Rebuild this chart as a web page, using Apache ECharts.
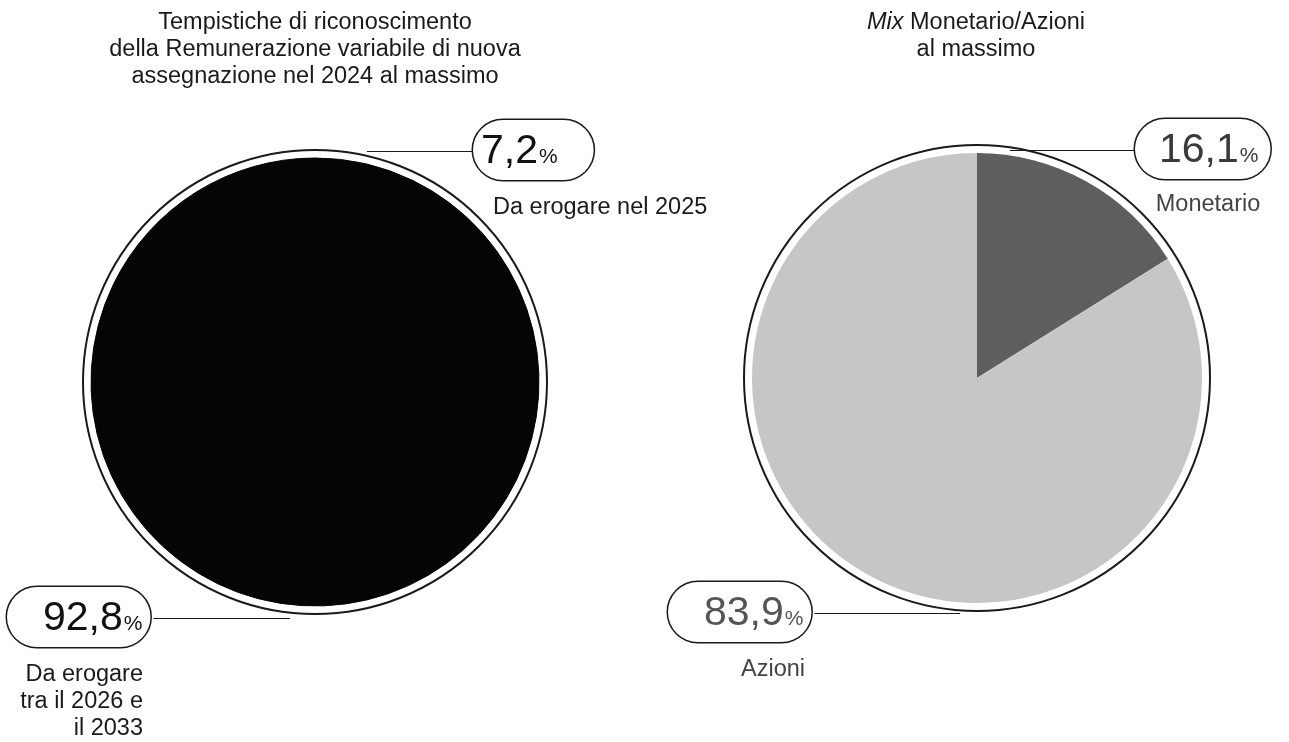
<!DOCTYPE html>
<html>
<head>
<meta charset="utf-8">
<script src="https://cdn.jsdelivr.net/npm/echarts@6/dist/echarts.min.js"></script>
<style>
  html, body { margin: 0; padding: 0; background: #fff; }
  #main { width: 1289px; height: 742px; }
</style>
</head>
<body>
<div id="main"></div>
<script>
// data
var timingNames = ['Da erogare nel 2025', 'Da erogare tra il 2026 e il 2033'];
var timingValues = [7.2, 92.8];
var mixNames = ['Monetario', 'Azioni'];
var mixValues = [16.1, 83.9];

var myChart = echarts.init(document.getElementById('main'));

var FONT = '"Liberation Sans", Arial, Helvetica, sans-serif';

// pie geometry (pixels)
var leftPie = { c: [315, 382], r: 224, ring: 232 };
var rightPie = { c: [977, 378], r: 225, ring: 233 };

// pill label: top-left corner and x offset (from pie centre) where the leader line ends
var pillPos = {
    1: [[473, 120, 52], [7, 587, -25]],
    3: [[1135, 119, 33], [668, 582, -17]]
};

function fmt(v) {
    return '{num|' + v.toFixed(1).replace('.', ',') + '}{pct|%}';
}

function richFor(color) {
    return {
        num: { fontFamily: FONT, fontSize: 41, color: color, lineHeight: 44, verticalAlign: 'bottom' },
        pct: { fontFamily: FONT, fontSize: 21, color: color, lineHeight: 44, verticalAlign: 'bottom', padding: [0, 0, 4, 1] }
    };
}

function ringSeries(p) {
    return {
        type: 'pie',
        silent: true,
        center: p.c,
        radius: [0, p.ring],
        label: { show: false },
        labelLine: { show: false },
        itemStyle: { color: '#fff', borderColor: '#1a1a1a', borderWidth: 2 },
        data: [{ value: 1, name: '' }],
        z: 1
    };
}

function pillLabel(color, pad) {
    return {
        show: true,
        formatter: function (p) { return fmt(p.value); },
        rich: richFor(color),
        borderColor: '#1a1a1a',
        borderWidth: 1.5,
        borderRadius: 30,
        padding: pad,
        backgroundColor: '#fff'
    };
}

function layoutFor(pie) {
    return function (params) {
        var pos = pillPos[params.seriesIndex][params.dataIndex];
        var w = params.labelRect.width, h = params.labelRect.height;
        var midY = pos[1] + h / 2;
        var onRight = pos[0] > pie.c[0];
        var endX = pie.c[0] + pos[2];
        var edgeX = onRight ? pos[0] : pos[0] + w;
        return {
            x: pos[0],
            y: pos[1],
            align: 'left',
            verticalAlign: 'top',
            labelLinePoints: [[endX, midY], [(endX + edgeX) / 2, midY], [edgeX, midY]]
        };
    };
}

var leftData = timingNames.map(function (n, i) {
    return { name: n, value: timingValues[i] };
});
var rightData = mixNames.map(function (n, i) {
    return { name: n, value: mixValues[i] };
});

var subStyle = { fontFamily: FONT, fontSize: 23.5, fontWeight: 'normal', color: '#1a1a1a', lineHeight: 27 };

var option = {
    backgroundColor: '#fff',
    animation: false,
    title: [
        {
            text: 'Tempistiche di riconoscimento\ndella Remunerazione variabile di nuova\nassegnazione nel 2024 al massimo',
            left: 310, top: 4, textAlign: 'center',
            textStyle: { fontFamily: FONT, fontSize: 23.5, fontWeight: 'normal', color: '#1a1a1a', lineHeight: 27 }
        },
        {
            text: '{i|Mix} Monetario/Azioni\nal massimo',
            left: 971, top: 4, textAlign: 'center',
            textStyle: {
                fontFamily: FONT, fontSize: 23.5, fontWeight: 'normal', color: '#1a1a1a', lineHeight: 27,
                rich: { i: { fontFamily: FONT, fontSize: 23.5, fontStyle: 'italic', color: '#1a1a1a', lineHeight: 27 } }
            }
        },
        {
            text: timingNames[0],
            left: 488, top: 189,
            textStyle: subStyle
        },
        {
            text: 'Da erogare\ntra il 2026 e\nil 2033',
            left: 138, top: 656, textAlign: 'right',
            textStyle: Object.assign({}, subStyle, { align: 'right' })
        },
        {
            text: mixNames[0],
            left: 1203, top: 186, textAlign: 'center',
            textStyle: Object.assign({}, subStyle, { color: '#444' })
        },
        {
            text: mixNames[1],
            left: 768, top: 651, textAlign: 'center',
            textStyle: Object.assign({}, subStyle, { color: '#444' })
        }
    ],
    series: [
        ringSeries(leftPie),
        {
            type: 'pie',
            center: leftPie.c,
            radius: [0, leftPie.r],
            startAngle: 90,
            clockwise: true,
            avoidLabelOverlap: false,
            itemStyle: { color: '#050505', borderColor: '#050505', borderWidth: 1 },
            labelLine: { show: true, lineStyle: { color: '#1a1a1a', width: 1.2 } },
            labelLayout: layoutFor(leftPie),
            data: [
                { name: leftData[0].name, value: leftData[0].value, label: pillLabel('#111', [8, 36, 8, 8]) },
                { name: leftData[1].name, value: leftData[1].value, label: pillLabel('#111', [8, 8, 8, 36]) }
            ],
            z: 2
        },
        ringSeries(rightPie),
        {
            type: 'pie',
            center: rightPie.c,
            radius: [0, rightPie.r],
            startAngle: 90,
            clockwise: true,
            avoidLabelOverlap: false,
            itemStyle: { borderWidth: 0 },
            labelLine: { show: true, lineStyle: { color: '#1a1a1a', width: 1.2 } },
            labelLayout: layoutFor(rightPie),
            data: [
                { name: rightData[0].name, value: rightData[0].value, itemStyle: { color: '#5e5e5e' }, label: pillLabel('#3a3a3a', [8, 12, 8, 24]) },
                { name: rightData[1].name, value: rightData[1].value, itemStyle: { color: '#c6c6c6' }, label: pillLabel('#555', [8, 8, 8, 36]) }
            ],
            z: 2
        }
    ]
};

myChart.setOption(option);
</script>
</body>
</html>
